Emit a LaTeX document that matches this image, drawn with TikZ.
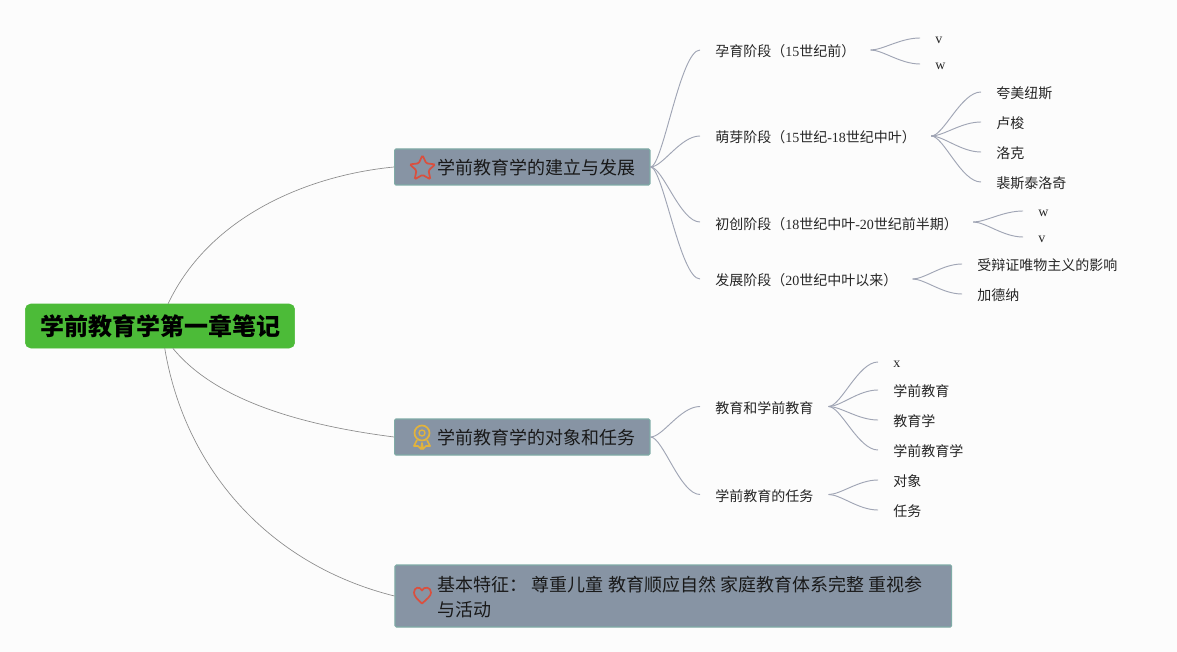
\documentclass[tikz,border=0pt]{standalone}
\usepackage{fontspec}
\setmainfont{Noto Sans CJK SC}
\newfontfamily\latin{Liberation Serif}
\newcommand{\lat}[1]{{\latin #1}}
\usepackage{tikz}
\usetikzlibrary{calc, shapes.geometric}
\definecolor{pagebg}{HTML}{FCFCFC}
\definecolor{rootgreen}{HTML}{4CBB38}
\definecolor{boxgrey}{HTML}{8794A4}
\definecolor{boxedge}{HTML}{7FABA6}
\definecolor{linegrey}{HTML}{A0A5B5}
\definecolor{iconred}{HTML}{D9503F}
\definecolor{icongold}{HTML}{E2B33C}
\tikzset{
  rootbox/.style={rectangle, rounded corners=4pt, fill=rootgreen, draw=rootgreen, minimum width=202pt, minimum height=33pt, inner sep=0pt, font=\fontsize{18}{22}\selectfont\bfseries},
  branchbox/.style={rectangle, rounded corners=1pt, fill=boxgrey, draw=boxedge, line width=.8pt, minimum width=191.5pt, minimum height=27pt, inner sep=0pt},
  branchtext/.style={anchor=west, inner sep=0pt, align=left, text=black!90, font=\fontsize{13.5}{18.75}\selectfont},
  stagetext/.style={anchor=west, inner xsep=11.25pt, inner ysep=1pt, text height=10.5pt, text depth=0pt, text=black!85, font=\fontsize{10.5}{13}\selectfont},
  leaftext/.style={stagetext, text height=10pt},
  latinleaf/.style={stagetext, text height=8.5pt},
  link/.style={draw=linegrey, line width=.7pt, to path={let \p1=(\tikztostart), \p2=(\tikztotarget) in .. controls ({.75*\x1+.25*\x2}, \y1) and ({.4*\x1+.6*\x2}, \y2) .. (\p2)}},
  rootlink/.style={draw=black!45, line width=.5pt},
}
\begin{document}
\begin{tikzpicture}[x=.75pt, y=-.75pt]
  \fill[pagebg] (0, 0) rectangle (1177, 652);
  \useasboundingbox (0, 0) rectangle (1177, 652);
  % root and main branches
  \node[rootbox] (root) at (160, 326) {学前教育学第一章笔记};
  \node[branchbox] (box1) at (522.3, 167) {};
  \node[branchbox] (box2) at (522.3, 437) {};
  \node[branchbox, minimum width=417.5pt, minimum height=46.5pt] (box3) at (673.3, 596) {};
  \node[branchtext] (title1) at (437, 168) {学前教育学的建立与发展};
  \node[branchtext] (title2) at (437, 438) {学前教育学的对象和任务};
  \node[branchtext] (title3) at (437, 597) {基本特征： \hspace{.25pt}尊重儿童 \hspace{.25pt}教育顺应自然 \hspace{.25pt}家庭教育体系完整 \hspace{.25pt}重视参\\与活动};
  % icons
  \node[star, star points=5, star point ratio=2.1, draw=iconred, line width=1.3pt, rounded corners=1pt, minimum size=20pt, inner sep=0pt] (staricon) at (422.5, 168.5) {};
  \draw[icongold, line width=1.3pt] (422, 433) circle (7.5);
  \draw[icongold, line width=1pt] (422, 433) circle (3);
  \draw[icongold, line width=1.3pt, line join=round] (417, 440) -- (414, 446) -- (418, 446) -- (421, 449) -- (422, 443) -- (423, 449) -- (426, 446) -- (430, 446) -- (427, 440);
  \draw[iconred, line width=1.3pt, line join=round] (422, 603.5) .. controls (417, 599) and (414, 596) .. (414, 592.5) .. controls (414, 587) and (420, 586) .. (422, 590.5) .. controls (424, 586) and (431, 587) .. (431, 592.5) .. controls (431, 596) and (427, 599) .. (422, 603.5) -- cycle;
  % stages
  \node[stagetext] (stage1) at (700, 50) {孕育阶段（\lat{15}世纪前）};
  \node[stagetext] (stage2) at (700, 136) {萌芽阶段（\lat{15}世纪\lat{-18}世纪中叶）};
  \node[stagetext] (stage3) at (700, 222) {初创阶段（\lat{18}世纪中叶\lat{-20}世纪前半期）};
  \node[stagetext] (stage4) at (700, 279) {发展阶段（\lat{20}世纪中叶以来）};
  \node[stagetext] (stage5) at (700, 406.5) {教育和学前教育};
  \node[stagetext] (stage6) at (700, 494.5) {学前教育的任务};
  % leaves
  \node[latinleaf] (leaf1) at (920, 38) {\lat{v}};
  \node[latinleaf] (leaf2) at (920, 64) {\lat{w}};
  \node[leaftext] (leaf3) at (981, 92) {夸美纽斯};
  \node[leaftext] (leaf4) at (981, 122) {卢梭};
  \node[leaftext] (leaf5) at (981, 152) {洛克};
  \node[leaftext] (leaf6) at (981, 182) {裴斯泰洛奇};
  \node[latinleaf] (leaf7) at (1023, 211) {\lat{w}};
  \node[latinleaf] (leaf8) at (1023, 237) {\lat{v}};
  \node[leaftext] (leaf9) at (962, 264) {受辩证唯物主义的影响};
  \node[leaftext] (leaf10) at (962, 294) {加德纳};
  \node[latinleaf] (leaf11) at (878, 362) {\lat{x}};
  \node[leaftext] (leaf12) at (878, 390) {学前教育};
  \node[leaftext] (leaf13) at (878, 420) {教育学};
  \node[leaftext] (leaf14) at (878, 450) {学前教育学};
  \node[leaftext] (leaf15) at (878, 480) {对象};
  \node[leaftext] (leaf16) at (878, 510) {任务};
  % connectors
  \draw[rootlink] (root.70) .. controls (210, 215) and (310, 175) .. (box1.west);
  \draw[rootlink] (root.-60) .. controls (215, 400) and (300, 425) .. (box2.west);
  \draw[rootlink] (root.-78) .. controls (185, 470) and (270, 565) .. (box3.west);
  \draw[link] (box1.east) to (stage1.west);
  \draw[link] (box1.east) to (stage2.west);
  \draw[link] (box1.east) to (stage3.west);
  \draw[link] (box1.east) to (stage4.west);
  \draw[link] (box2.east) to (stage5.west);
  \draw[link] (box2.east) to (stage6.west);
  \draw[link] (stage1.east) to (leaf1.west);
  \draw[link] (stage1.east) to (leaf2.west);
  \draw[link] (stage2.east) to (leaf3.west);
  \draw[link] (stage2.east) to (leaf4.west);
  \draw[link] (stage2.east) to (leaf5.west);
  \draw[link] (stage2.east) to (leaf6.west);
  \draw[link] (stage3.east) to (leaf7.west);
  \draw[link] (stage3.east) to (leaf8.west);
  \draw[link] (stage4.east) to (leaf9.west);
  \draw[link] (stage4.east) to (leaf10.west);
  \draw[link] (stage5.east) to (leaf11.west);
  \draw[link] (stage5.east) to (leaf12.west);
  \draw[link] (stage5.east) to (leaf13.west);
  \draw[link] (stage5.east) to (leaf14.west);
  \draw[link] (stage6.east) to (leaf15.west);
  \draw[link] (stage6.east) to (leaf16.west);
\end{tikzpicture}
\end{document}
